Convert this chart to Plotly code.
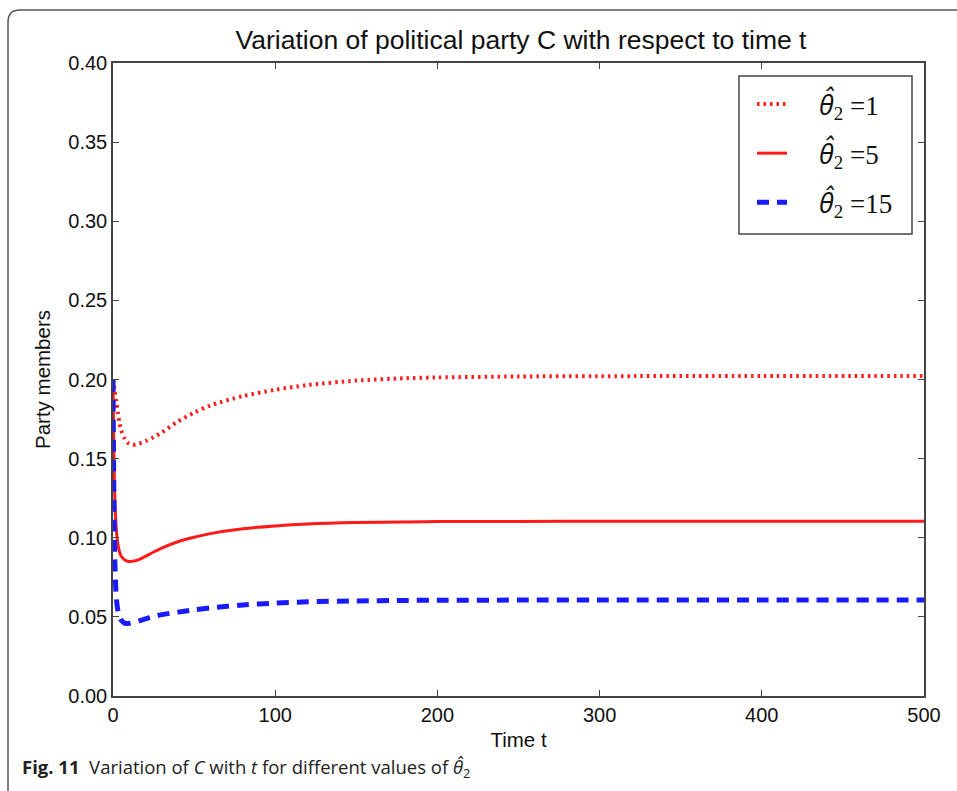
import plotly.graph_objects as go

# ---- data ----
t = [0, 1, 2, 3, 4, 5, 7, 9, 12, 16, 20, 25, 30, 40, 50, 60, 80, 100, 120, 150, 180, 200, 250, 300, 400, 500]

c_theta1 = [0.200, 0.193, 0.186, 0.179, 0.1725, 0.168, 0.163, 0.160, 0.1587, 0.1595, 0.161, 0.1635, 0.1665, 0.1735, 0.1790, 0.1836, 0.1895, 0.1935, 0.1965, 0.1993, 0.2008, 0.2013, 0.2019, 0.2021, 0.2022, 0.2022]
c_theta5 = [0.200, 0.130, 0.106, 0.096, 0.091, 0.0885, 0.0862, 0.0852, 0.0851, 0.0862, 0.0882, 0.0910, 0.0935, 0.0975, 0.1003, 0.1026, 0.1057, 0.1075, 0.1087, 0.1096, 0.1100, 0.1102, 0.1103, 0.1104, 0.1104, 0.1104]
c_theta15 = [0.200, 0.090, 0.063, 0.054, 0.050, 0.048, 0.0462, 0.0458, 0.0463, 0.0475, 0.0487, 0.0502, 0.0514, 0.0530, 0.0545, 0.0557, 0.0575, 0.0587, 0.0595, 0.0601, 0.0604, 0.0605, 0.0606, 0.0606, 0.0606, 0.0606]

theta_hat = "<span style='font-family:Open Sans'><i>θ̂</i></span>"
series_values = ["1", "5", "15"]
series_names = [f"&nbsp;&nbsp;&nbsp;&nbsp;{theta_hat}<sub>2</sub> =" + v for v in series_values]

x_ticks = [0, 100, 200, 300, 400, 500]
y_ticks = [0.00, 0.05, 0.10, 0.15, 0.20, 0.25, 0.30, 0.35, 0.40]
y_tick_labels = ["0.00", "0.05", "0.10", "0.15", "0.20", "0.25", "0.30", "0.35", "0.40"]

# ---- layout geometry (pixels) ----
W, H = 957, 791
L, R, T, B = 113, 924, 63, 696


def px_x(px):
    return (px - L) / (R - L)


def px_y(py):
    return (B - py) / (B - T)


fig = go.Figure()
fig.add_trace(go.Scatter(x=t, y=c_theta1, mode="lines", name=series_names[0],
                         legendgroup="a",
                         line=dict(color="#ff2020", width=4, dash="2.5px,4px", shape="spline", smoothing=0.8)))
fig.add_trace(go.Scatter(x=t, y=c_theta5, mode="lines", name=series_names[1],
                         legendgroup="b",
                         line=dict(color="#ff1a1a", width=3, shape="spline", smoothing=0.8)))
fig.add_trace(go.Scatter(x=t, y=c_theta15, mode="lines", name=series_names[2],
                         legendgroup="c",
                         line=dict(color="#1a1aff", width=5, dash="12px,8px", shape="spline", smoothing=0.8)))

SANS = "Liberation Sans, Arial, sans-serif"
axis_common = dict(
    showgrid=False, zeroline=False, showline=True, linecolor="#444444", linewidth=1.5,
    mirror="ticks", ticks="inside", ticklen=6, tickwidth=1, tickcolor="#444444",
    tickfont=dict(family=SANS, size=20, color="#111111"),
)

fig.update_layout(
    width=W, height=H,
    margin=dict(l=L, r=W - R, t=T, b=H - B, pad=0),
    paper_bgcolor="white", plot_bgcolor="white",
    title=dict(text="Variation of political party C with respect to time t",
               x=521 / W, xanchor="center",
               y=1 - 40 / H, yanchor="middle",
               font=dict(family=SANS, size=26.5, color="#111111")),
    xaxis=dict(range=[0, 500], tickvals=x_ticks,
               title=dict(text="Time t", standoff=8,
                          font=dict(family=SANS, size=20.5, color="#111111")),
               **axis_common),
    yaxis=dict(range=[0, 0.40], tickvals=y_ticks, ticktext=y_tick_labels,
               title=dict(text="Party members", standoff=12,
                          font=dict(family=SANS, size=20.5, color="#111111")),
               **axis_common),
    legend=dict(x=px_x(752), y=px_y(80), xanchor="left", yanchor="top",
                bgcolor="rgba(0,0,0,0)", borderwidth=0,
                tracegroupgap=11,
                font=dict(family="Liberation Serif, DejaVu Serif, serif", size=27, color="#111111")),
    showlegend=True,
)

# legend frame
fig.add_shape(type="rect", xref="paper", yref="paper",
              x0=px_x(739), x1=px_x(912), y0=px_y(234), y1=px_y(76),
              line=dict(color="#444444", width=1.5), fillcolor="white", layer="below")

# caption below the chart
fig.add_annotation(
    xref="paper", yref="paper", x=px_x(20), y=px_y(768), xanchor="left", yanchor="middle",
    text="<b>Fig. 11</b>  Variation of <i>C</i> with <i>t</i> for different values of <i>θ̂</i><sub>2</sub>",
    showarrow=False, font=dict(family="Open Sans, sans-serif", size=18.5, color="#222222"),
)

# rounded figure frame (top and left edges)
x0, y0 = px_x(8), px_y(H + 5)
ytop = px_y(10)
xr = px_x(20)
yr = px_y(22)
fig.add_shape(type="path", xref="paper", yref="paper",
              path=f"M {x0},{y0} L {x0},{yr} Q {x0},{ytop} {xr},{ytop} L {px_x(W + 5)},{ytop}",
              line=dict(color="#555555", width=1.5))

fig.write_html("out.html", config={"displayModeBar": False},
               post_script="document.body.style.margin='0';")
